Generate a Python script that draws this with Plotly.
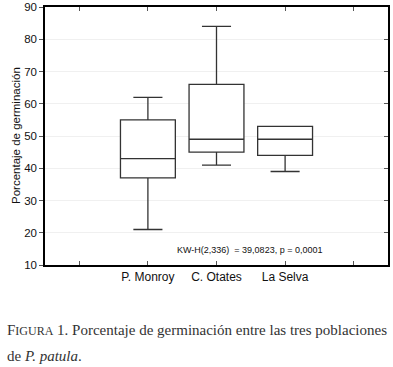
import plotly.graph_objects as go

categories = ["P. Monroy", "C. Otates", "La Selva"]
positions = [2, 3, 4]
lower_whisker = [21, 41, 39]
q1_vals = [37, 45, 44]
median_vals = [43, 49, 49]
q3_vals = [55, 66, 53]
upper_whisker = [62, 84, 53]
tick_positions = [1, 2, 3, 4, 5]
tick_labels = ["", "P. Monroy", "C. Otates", "La Selva", ""]
y_ticks = [10, 20, 30, 40, 50, 60, 70, 80, 90]

fig = go.Figure()
fig.add_trace(go.Box(
    x=positions, q1=q1_vals, median=median_vals, q3=q3_vals,
    lowerfence=lower_whisker, upperfence=upper_whisker,
    width=0.8, whiskerwidth=0.53,
    fillcolor="white", line=dict(color="#333333", width=1.3),
    boxpoints=False, showlegend=False, hoverinfo="skip",
))
fig.add_trace(go.Scatter(x=[1], y=[50], yaxis="y2", mode="markers",
                         marker=dict(opacity=0), showlegend=False, hoverinfo="skip"))

font_sans = "Liberation Sans, Arial, sans-serif"
L, R, T, B = 45, 5, 7, 102
W, H = 393, 367
pw, ph = W - L - R, H - T - B

def px_x(x):
    return (x - L) / pw

def px_y(y):
    return (H - B - y) / ph

fig.update_layout(
    template="none",
    width=W, height=H,
    margin=dict(l=L, r=R, t=T, b=B, autoexpand=False),
    paper_bgcolor="white", plot_bgcolor="white",
    font=dict(family=font_sans, color="black"),
    xaxis=dict(range=[0.5, 5.5], tickvals=tick_positions, ticktext=tick_labels,
               automargin=False, ticks="inside", ticklen=4, tickcolor="#555", showline=True,
               linecolor="black", linewidth=1.5, mirror="ticks", showgrid=False,
               zeroline=False, tickfont=dict(size=12, family=font_sans, color="#111")),
    yaxis=dict(range=[10, 90], tickvals=y_ticks, ticks="outside", ticklen=4,
               automargin=False, tickcolor="#555", showline=True, linecolor="black", linewidth=1.5,
               mirror=True, showgrid=True, gridcolor="#f0f0f0", gridwidth=1,
               zeroline=False, tickfont=dict(size=11.5, color="#111")),
    yaxis2=dict(range=[10, 90], tickvals=y_ticks, overlaying="y", side="right",
                automargin=False, ticks="inside", ticklen=4, tickcolor="#555", showticklabels=False,
                showgrid=False, zeroline=False, showline=False),
)

fig.add_annotation(x=px_x(16), y=px_y(136), xref="paper", yref="paper",
                   xanchor="center", yanchor="middle",
                   text="Porcentaje de germinación", textangle=-90, showarrow=False,
                   font=dict(size=11.5, family=font_sans, color="#111"))

fig.add_annotation(x=3.48, y=14.8, xref="x", yref="y",
                   text="KW-H(2,336)  = 39,0823, p = 0,0001", showarrow=False,
                   font=dict(size=9, family=font_sans, color="#111"))

serif = "Liberation Serif, Times New Roman, serif"
fig.add_annotation(
    x=px_x(5), y=px_y(330), xref="paper", yref="paper", xanchor="left", yanchor="middle",
    text="F<span style='font-size:12px'>IGURA</span> 1. Porcentaje de germinación entre las tres poblaciones",
    showarrow=False, font=dict(size=15, family=serif, color="#333"), align="left")
fig.add_annotation(
    x=px_x(5), y=px_y(356), xref="paper", yref="paper", xanchor="left", yanchor="middle",
    text="de <i>P. patula</i>.", showarrow=False,
    font=dict(size=15, family=serif, color="#333"), align="left")

fig.write_html("out.html", config={"displayModeBar": False},
               post_script="document.body.style.margin='0';document.body.style.padding='0';")
